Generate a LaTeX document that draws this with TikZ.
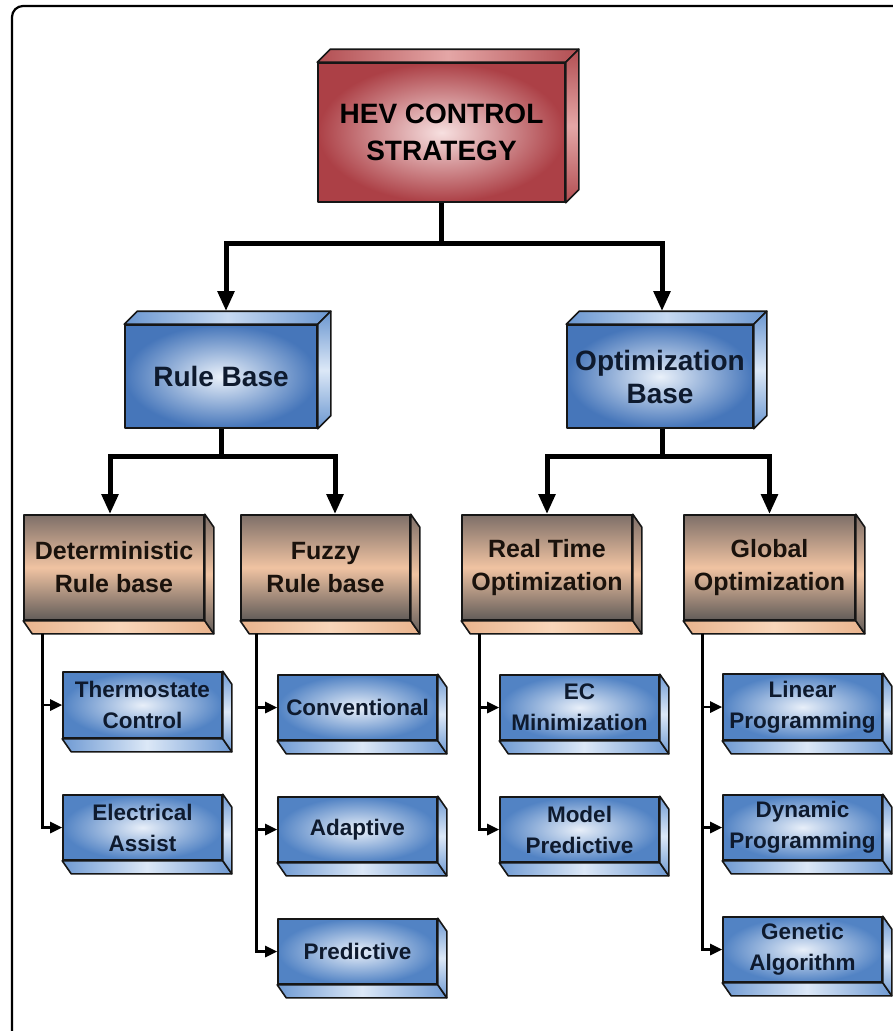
\documentclass[tikz,border=0pt]{standalone}
\usepackage{fontspec}
\setmainfont{Liberation Sans}
\usetikzlibrary{arrows.meta,calc}

\definecolor{edge}{HTML}{161616}
\definecolor{redin}{HTML}{F7E0E0}
\definecolor{redout}{HTML}{AC4046}
\definecolor{redmid}{HTML}{E4A6A6}
\definecolor{reddark}{HTML}{B24E52}
\definecolor{bluein}{HTML}{EAF1FA}
\definecolor{blueout}{HTML}{4676BA}
\definecolor{bluemid}{HTML}{C6D9F1}
\definecolor{bluedark}{HTML}{6A96D0}
\definecolor{tantop}{HTML}{7E6F68}
\definecolor{tanmid}{HTML}{F0C3A2}
\definecolor{tanbotc}{HTML}{625C59}
\definecolor{peach}{HTML}{E9B48E}
\definecolor{peachlt}{HTML}{F8D6BA}
\definecolor{sbin}{HTML}{E8EFF9}
\definecolor{sbout}{HTML}{5283C4}
\definecolor{sbdark}{HTML}{6F9AD3}
\definecolor{sblt}{HTML}{DCE8F7}
\definecolor{bluetxt}{HTML}{0E1A2E}
\definecolor{tantxt}{HTML}{1A120C}

\tikzset{
  face/.style={draw=edge, line width=1.6pt, line join=round},
  front/.style={face, rectangle, inner sep=0pt, align=center},
  redfront/.style={front, inner color=redin, outer color=redout, text=black,
    font=\fontsize{28}{37}\selectfont\bfseries},
  redtop/.style={left color=reddark, right color=reddark, middle color=redmid},
  redside/.style={top color=reddark, bottom color=reddark, middle color=redmid},
  bluefront/.style={front, inner color=bluein, outer color=blueout, text=bluetxt,
    font=\fontsize{28}{33}\selectfont\bfseries},
  bluetop/.style={left color=bluedark, right color=bluedark, middle color=bluemid},
  blueside/.style={top color=bluedark, bottom color=bluedark, middle color=sblt},
  tanfront/.style={front, top color=tantop, bottom color=tanbotc, middle color=tanmid, text=tantxt,
    font=\fontsize{25}{33}\selectfont\bfseries},
  tanbot/.style={left color=peach, right color=peach, middle color=peachlt},
  tanside/.style={top color=tantop, bottom color=tanbotc, middle color=tanmid},
  sbfront/.style={front, inner color=sbin, outer color=sbout, text=bluetxt,
    font=\fontsize{22.5}{31}\selectfont\bfseries},
  sbbot/.style={left color=sbdark, right color=sbdark, middle color=sblt},
  sbside/.style={top color=sbdark, bottom color=sbdark, middle color=sblt},
  bigarrow/.style={draw=black, line width=5pt, -{Triangle[length=20pt,width=16pt]}},
  smallarrow/.style={draw=black, line width=2.6pt, -{Triangle[length=12pt,width=11pt]}},
  frame/.style={draw=black, line width=2.2pt, rounded corners=11pt}
}

% box with top and right faces
\newcommand\boxTR[8]{%
  \node[#7front, minimum width=#4pt, minimum height=#5pt] (#1) at (#2,#3) {#8};
  \draw[face, #7top] (#1.north west) -- ++(#6,-#6) -- ([shift={(#6,-#6)}]#1.north east) -- (#1.north east) -- cycle;
  \draw[face, #7side] (#1.north east) -- ++(#6,-#6) -- ([shift={(#6,-#6)}]#1.south east) -- (#1.south east) -- cycle;
}
% box with bottom and right faces
\newcommand\boxBR[7]{%
  \node[#6front, minimum width=#4pt, minimum height=#5pt] (#1) at (#2,#3) {#7};
  \draw[face, #6bot] (#1.south west) -- ++(9,13) -- ([shift={(9,13)}]#1.south east) -- (#1.south east) -- cycle;
  \draw[face, #6side] (#1.north east) -- ++(9,13) -- ([shift={(9,13)}]#1.south east) -- (#1.south east) -- cycle;
}

\begin{document}
\begin{tikzpicture}[x=1pt,y=-1pt]
  \useasboundingbox (0,0) rectangle (893,1031);
  \clip (0,0) rectangle (893,1031);
  \fill[white] (0,0) rectangle (893,1031);
  \draw[frame] (12,6) rectangle (910,1050);

  % level 1
  \boxTR{hev}{441.5}{132.5}{247}{139}{13}{red}{HEV CONTROL\\STRATEGY}
  % level 2
  \boxTR{rb}{221}{376.5}{192}{103}{13}{blue}{Rule Base}
  \boxTR{ob}{660}{376.5}{186}{103}{13}{blue}{Optimization\\Base}
  % level 3
  \boxBR{det}{114}{567.5}{180}{105}{tan}{Deterministic\\Rule base}
  \boxBR{fz}{325.5}{567.5}{169}{105}{tan}{Fuzzy\\Rule base}
  \boxBR{rt}{547}{567.5}{170}{105}{tan}{Real Time\\Optimization}
  \boxBR{gl}{769.5}{567.5}{171}{105}{tan}{Global\\Optimization}
  % level 4
  \boxBR{th}{142.5}{705}{159}{66}{sb}{Thermostate\\Control}
  \boxBR{ea}{142.5}{827.5}{159}{65}{sb}{Electrical\\Assist}
  \boxBR{cv}{357.5}{707.5}{159}{65}{sb}{Conventional}
  \boxBR{ad}{357.5}{829.5}{159}{65}{sb}{Adaptive}
  \boxBR{pr}{357.5}{951.5}{159}{65}{sb}{Predictive}
  \boxBR{ec}{579.5}{707.5}{159}{65}{sb}{EC\\Minimization}
  \boxBR{mp}{579.5}{829.5}{159}{65}{sb}{Model\\Predictive}
  \boxBR{lp}{802.5}{707}{159}{66}{sb}{Linear\\Programming}
  \boxBR{dp}{802.5}{827.5}{159}{65}{sb}{Dynamic\\Programming}
  \boxBR{ga}{802.5}{949.5}{159}{65}{sb}{Genetic\\Algorithm}

  % entry points
  \coordinate (rb-in) at ([shift={(5,-13)}]rb.north);
  \coordinate (ob-in) at ([shift={(2,-13)}]ob.north);
  \coordinate (det-in) at ([xshift=-4pt]det.north);
  \coordinate (fz-in) at ([xshift=9.5pt]fz.north);
  \coordinate (det-out) at ([shift={(19,13)}]det.south west);
  \coordinate (fz-out) at ([shift={(16,13)}]fz.south west);
  \coordinate (rt-out) at ([shift={(18,13)}]rt.south west);
  \coordinate (gl-out) at ([shift={(19,13)}]gl.south west);

  % level 1 -> 2
  \draw[bigarrow] (hev.south) -- ++(0,41) -| (rb-in);
  \draw[bigarrow] (hev.south) -- ++(0,41) -| (ob-in);
  % level 2 -> 3
  \draw[bigarrow] (rb.south) -- ++(0,28) -| (det-in);
  \draw[bigarrow] (rb.south) -- ++(0,28) -| (fz-in);
  \draw[bigarrow] ([xshift=2pt]ob.south) -- ++(0,28) -| (rt.north);
  \draw[bigarrow] ([xshift=2pt]ob.south) -- ++(0,28) -| (gl.north);
  % level 3 -> 4
  \draw[smallarrow] (det-out) |- (th.west);
  \draw[smallarrow] (det-out) |- (ea.west);
  \draw[smallarrow] (fz-out) |- (cv.west);
  \draw[smallarrow] (fz-out) |- (ad.west);
  \draw[smallarrow] (fz-out) |- (pr.west);
  \draw[smallarrow] (rt-out) |- (ec.west);
  \draw[smallarrow] (rt-out) |- (mp.west);
  \draw[smallarrow] (gl-out) |- (lp.west);
  \draw[smallarrow] (gl-out) |- (dp.west);
  \draw[smallarrow] (gl-out) |- (ga.west);
\end{tikzpicture}
\end{document}
